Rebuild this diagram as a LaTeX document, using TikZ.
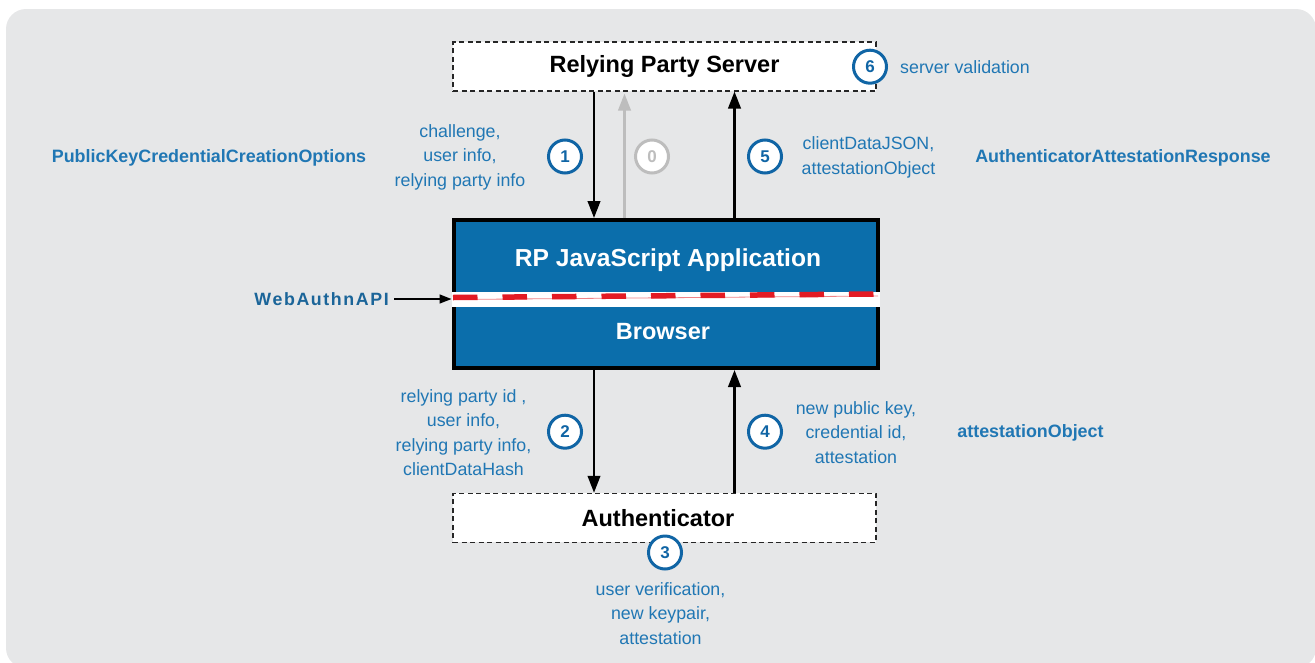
\documentclass[tikz,border=0pt]{standalone}
\usepackage{fontspec}
\setmainfont{Liberation Sans}
\usetikzlibrary{arrows.meta}
\definecolor{bg}{HTML}{E6E7E8}
\definecolor{txtblue}{HTML}{2077B4}
\definecolor{circblue}{HTML}{1065A5}
\definecolor{boxblue}{HTML}{0B6EAB}
\definecolor{dashred}{HTML}{E31B23}
\definecolor{zerogray}{HTML}{BDBDBD}
\tikzset{
  dbox/.style={draw=black!85, dash pattern=on 5pt off 3.5pt, line width=1.1pt, fill=white,
    minimum width=423pt, minimum height=49pt, inner sep=0pt,
    font=\bfseries\fontsize{23.5}{26}\selectfont},
  num/.style={circle, draw=circblue, line width=3pt, fill=white, minimum size=33pt,
    inner sep=0pt, text=circblue, font=\bfseries\fontsize{17}{17}\selectfont},
  lbl/.style={text=txtblue, align=center, inner sep=0pt,
    font=\fontsize{17.8}{24.5}\selectfont},
  blbl/.style={text=txtblue, inner sep=0pt, font=\bfseries\fontsize{17.9}{20}\selectfont},
  arr/.style={line width=2.5pt, -{Triangle[width=12.5pt,length=17pt]}},
}
\begin{document}
\begin{tikzpicture}[x=1pt,y=-1pt]
\useasboundingbox (0,0) rectangle (1315,662);
\fill[bg, rounded corners=20pt] (6,9) rectangle (1316,668);

% boxes
\node[dbox] (rps) at (664.5,66.5) {\raisebox{-1.5pt}{Relying Party Server}};
\node[dbox] (auth) at (664.5,517.8) {\hspace*{-13pt}Authenticator};
\node[draw=black, line width=4pt, fill=boxblue, minimum width=424pt, minimum height=148pt,
  inner sep=0pt] (br) at (665.5,294) {};
\fill[white] (451.5,292) rectangle (879.5,306.5);
\draw[dashred!55, line width=0.8pt] (453,299.5) -- (878,296);
\draw[dashred, line width=5.5pt, dash pattern=on 24.5pt off 25pt] (453,297.5) -- (878,294);
\node[text=white, font=\bfseries\fontsize{24.6}{26}\selectfont] (rpjs) at (668,260) {RP JavaScript Application};
\node[text=white, font=\bfseries\fontsize{23.5}{26}\selectfont] (bro) at (663,332) {Browser};

% x positions
\coordinate (xa) at (594,0);
\coordinate (xz) at (624.5,0);
\coordinate (xb) at (734.5,0);

% arrows
\draw[arr] (xa |- rps.south) -- (xa |- br.north);
\draw[arr, zerogray] (xz |- br.north) -- ([yshift=-2pt]xz |- rps.south);
\draw[arr] (xb |- br.north) -- (xb |- rps.south);
\draw[arr] (xa |- br.south) -- (xa |- auth.north);
\draw[arr] (xb |- auth.north) -- (xb |- br.south);

% circles
\node[num] (n1) at (565,156.5) {1};
\node[num, draw=zerogray, text=zerogray] (n0) at (652,156.5) {0};
\node[num] (n5) at (765,156.5) {5};
\node[num] (n6) at (870,66.7) {6};
\node[num] (n2) at (565,431.7) {2};
\node[num] (n4) at (765,431.7) {4};
\node[num] (n3) at (665,552.5) {3};

% labels
\node[lbl] (l1) at (460,157) {challenge,\\user info,\\relying party info};
\node[lbl] (l5) at (868.5,157.5) {clientDataJSON,\\attestationObject};
\node[lbl, anchor=west] (l6) at (900,67) {server validation};
\node[lbl] (l2) at (463.5,432.5) {relying party id ,\\user info,\\relying party info,\\clientDataHash};
\node[lbl] (l4) at (856,432.5) {new public key,\\credential id,\\attestation};
\node[lbl] (l3) at (660.5,613.5) {user verification,\\new keypair,\\attestation};

\node[blbl] (pkc) at (209,157.5) {PublicKeyCredentialCreationOptions};
\node[blbl] (aar) at (1123,157.5) {AuthenticatorAttestationResponse};
\node[blbl] (ao) at (1030.5,432.5) {attestationObject};
\node[blbl, anchor=east, text=txtblue!85!black, font=\bfseries\fontsize{17.8}{20}\selectfont\addfontfeature{LetterSpace=9}] (wa) at (389,299) {WebAuthnAPI};
\draw[line width=1.5pt, -{Triangle[width=9pt,length=12pt]}] ([xshift=5pt]wa.east) -- (br.west |- wa.east);
\end{tikzpicture}
\end{document}
